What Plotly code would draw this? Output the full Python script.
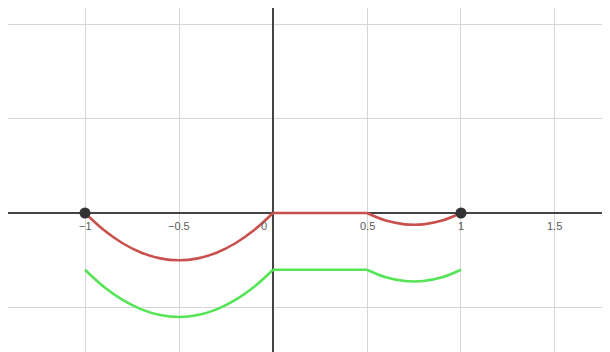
import plotly.graph_objects as go

# --- data ---
x_left = [-1.0, -0.9, -0.8, -0.7, -0.6, -0.5, -0.4, -0.3, -0.2, -0.1, 0.0]
red_left = [0.0, -0.09, -0.16, -0.21, -0.24, -0.25, -0.24, -0.21, -0.16, -0.09, 0.0]
green_left = [-0.30, -0.39, -0.46, -0.51, -0.54, -0.55, -0.54, -0.51, -0.46, -0.39, -0.30]

x_mid = [0.0, 0.5]
red_mid = [0.0, 0.0]
green_mid = [-0.30, -0.30]

x_right = [0.5, 0.6, 0.7, 0.75, 0.8, 0.9, 1.0]
red_right = [0.0, -0.04, -0.06, -0.0625, -0.06, -0.04, 0.0]
green_right = [-0.30, -0.34, -0.36, -0.3625, -0.36, -0.34, -0.30]

point_x = [-1, 1]
point_y = [0, 0]

tick_vals = [-1, -0.5, 0, 0.5, 1, 1.5]
tick_text = ["−1", "−0.5", "0", "0.5", "1", "1.5"]

RED = "#c9514d"
GREEN = "#55e455"

fig = go.Figure()
for xs, ys in [(x_left, green_left), (x_mid, green_mid), (x_right, green_right)]:
    fig.add_trace(go.Scatter(x=xs, y=ys, mode="lines", line=dict(color=GREEN, width=2.6, shape="spline"),
                             hoverinfo="skip"))
for xs, ys in [(x_left, red_left), (x_mid, red_mid), (x_right, red_right)]:
    fig.add_trace(go.Scatter(x=xs, y=ys, mode="lines", line=dict(color=RED, width=2.6, shape="spline"),
                             hoverinfo="skip"))
fig.add_trace(go.Scatter(x=point_x, y=point_y, mode="markers",
                         marker=dict(color="#333333", size=11), hoverinfo="skip"))

for v, t in zip(tick_vals, tick_text):
    fig.add_annotation(x=v, y=0, text=t, showarrow=False, yshift=-13,
                       xshift=(-9 if v == 0 else 0),
                       font=dict(family="Arial, Liberation Sans, sans-serif", size=11, color="#5a5a5a"))

fig.update_layout(
    width=602, height=344,
    margin=dict(l=0, r=0, t=0, b=0),
    paper_bgcolor="white", plot_bgcolor="white",
    showlegend=False,
    xaxis=dict(range=[-1.4096, 1.7926], dtick=0.5, tick0=0, showticklabels=False, ticks="",
               showgrid=True, gridcolor="#d6d6d6", gridwidth=1.2,
               zeroline=True, zerolinecolor="#444444", zerolinewidth=1.5, showline=False, fixedrange=True),
    yaxis=dict(range=[-0.7354, 1.0847], dtick=0.5, tick0=0, showticklabels=False, ticks="",
               showgrid=True, gridcolor="#d6d6d6", gridwidth=1.2,
               zeroline=True, zerolinecolor="#444444", zerolinewidth=1.5, showline=False, fixedrange=True),
)

fig.write_html("out.html")
